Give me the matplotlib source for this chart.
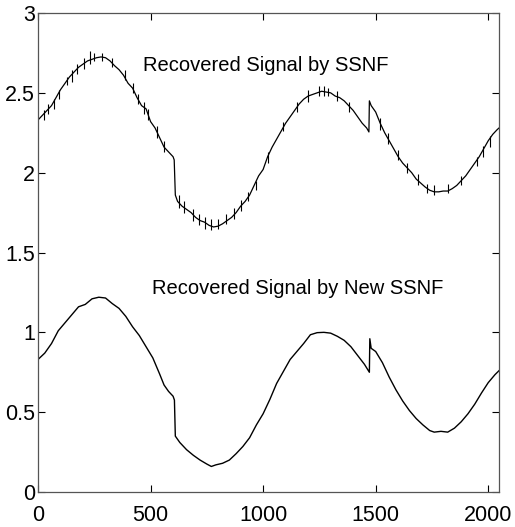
import matplotlib
matplotlib.use("Agg")
import matplotlib.pyplot as plt

# Recovered signal by the new SSNF (smooth trace)
new_x = [0, 30, 60, 90, 120, 150, 180, 210, 240, 270, 300, 330, 360, 390, 420,
         450, 480, 510, 540, 560, 580, 600, 606, 610, 630, 660, 690, 720, 750,
         770, 790, 820, 850, 880, 910, 940, 970, 1000, 1030, 1060, 1090, 1120,
         1150, 1180, 1210, 1240, 1270, 1300, 1330, 1360, 1390, 1420, 1450, 1472,
         1474, 1480, 1500, 1530, 1560, 1590, 1620, 1650, 1680, 1710, 1740, 1760,
         1790, 1820, 1850, 1880, 1910, 1940, 1970, 2000, 2030, 2048]
new_y = [0.83, 0.87, 0.93, 1.01, 1.06, 1.11, 1.16, 1.175, 1.21, 1.22, 1.215,
         1.18, 1.15, 1.10, 1.035, 0.98, 0.91, 0.84, 0.74, 0.67, 0.63, 0.60,
         0.576, 0.35, 0.31, 0.265, 0.23, 0.20, 0.175, 0.16, 0.17, 0.18, 0.20,
         0.24, 0.285, 0.34, 0.42, 0.49, 0.58, 0.68, 0.755, 0.83, 0.88, 0.93,
         0.985, 0.998, 1.0, 0.995, 0.975, 0.95, 0.91, 0.855, 0.80, 0.75, 0.96,
         0.90, 0.88, 0.81, 0.72, 0.64, 0.57, 0.51, 0.46, 0.42, 0.385, 0.375,
         0.38, 0.375, 0.40, 0.44, 0.49, 0.55, 0.62, 0.685, 0.735, 0.76]

# Recovered signal by the SSNF (noisy trace)
ssnf_x = [0, 20, 40, 60, 80, 100, 120, 140, 160, 180, 200, 220, 240, 260, 280,
          300, 320, 340, 360, 380, 400, 420, 440, 460, 480, 500, 520, 540, 560,
          580, 600, 605, 610, 620, 640, 660, 680, 700, 720, 740, 760, 780, 800,
          820, 840, 860, 880, 900, 920, 940, 960, 980, 1000, 1020, 1040, 1060,
          1080, 1100, 1120, 1140, 1160, 1180, 1200, 1220, 1240, 1260, 1280,
          1300, 1320, 1340, 1360, 1380, 1400, 1420, 1440, 1460, 1470, 1472,
          1480, 1500, 1520, 1540, 1560, 1580, 1600, 1620, 1640, 1660, 1680,
          1700, 1720, 1740, 1760, 1780, 1800, 1820, 1840, 1860, 1880, 1900,
          1920, 1940, 1960, 1980, 2000, 2020, 2040, 2048]
ssnf_y = [2.33, 2.36, 2.39, 2.42, 2.47, 2.52, 2.56, 2.60, 2.63, 2.66, 2.68,
          2.70, 2.71, 2.72, 2.725, 2.72, 2.70, 2.67, 2.645, 2.61, 2.56, 2.53,
          2.47, 2.42, 2.40, 2.32, 2.28, 2.22, 2.16, 2.13, 2.10, 2.08, 1.86,
          1.82, 1.79, 1.77, 1.75, 1.72, 1.70, 1.69, 1.67, 1.66, 1.665, 1.68,
          1.70, 1.72, 1.75, 1.79, 1.82, 1.86, 1.92, 1.98, 2.02, 2.10, 2.16,
          2.21, 2.26, 2.31, 2.35, 2.39, 2.43, 2.46, 2.48, 2.49, 2.50, 2.51,
          2.505, 2.50, 2.48, 2.47, 2.45, 2.42, 2.39, 2.35, 2.31, 2.28, 2.255,
          2.45, 2.42, 2.38, 2.31, 2.25, 2.20, 2.15, 2.10, 2.06, 2.03, 2.00,
          1.96, 1.935, 1.91, 1.89, 1.88, 1.88, 1.885, 1.885, 1.90, 1.92, 1.95,
          1.98, 2.02, 2.06, 2.10, 2.15, 2.20, 2.24, 2.27, 2.28]

# Short noise spikes on the SSNF trace: position, low end, high end
spike_x = [25, 45, 70, 95, 130, 150, 175, 205, 230, 250, 285, 330, 385, 420,
           445, 470, 490, 530, 560, 625, 650, 690, 715, 740, 770, 800, 835,
           870, 900, 935, 970, 1020, 1090, 1150, 1200, 1250, 1270, 1290, 1330,
           1380, 1520, 1555, 1600, 1640, 1690, 1730, 1760, 1820, 1880, 1950,
           1975, 2010]
spike_lo = [2.33, 2.37, 2.40, 2.46, 2.55, 2.57, 2.62, 2.65, 2.68, 2.70, 2.70,
            2.66, 2.58, 2.50, 2.43, 2.37, 2.33, 2.22, 2.13, 1.78, 1.75, 1.70,
            1.67, 1.65, 1.64, 1.65, 1.68, 1.71, 1.76, 1.82, 1.89, 2.06, 2.26,
            2.38, 2.44, 2.48, 2.48, 2.48, 2.45, 2.38, 2.27, 2.18, 2.08, 2.00,
            1.92, 1.87, 1.86, 1.87, 1.92, 2.04, 2.10, 2.16]
spike_hi = [2.39, 2.43, 2.46, 2.52, 2.60, 2.64, 2.68, 2.72, 2.76, 2.75, 2.75,
            2.72, 2.64, 2.56, 2.49, 2.44, 2.40, 2.29, 2.20, 1.86, 1.82, 1.77,
            1.74, 1.72, 1.71, 1.71, 1.74, 1.78, 1.83, 1.88, 1.95, 2.13, 2.32,
            2.44, 2.52, 2.54, 2.54, 2.53, 2.51, 2.44, 2.34, 2.25, 2.14, 2.06,
            1.99, 1.93, 1.92, 1.93, 1.98, 2.10, 2.17, 2.23]

x_ticks = [0, 500, 1000, 1500, 2000]
x_tick_labels = ["0", "500", "1000", "1500", "2000"]
y_ticks = [0, 0.5, 1, 1.5, 2, 2.5, 3]
y_tick_labels = ["0", "0.5", "1", "1.5", "2", "2.5", "3"]

label_top = "Recovered Signal by SSNF"
label_bottom = "Recovered Signal by New SSNF"

plt.rcParams["font.family"] = ["Liberation Sans", "DejaVu Sans"]

fig = plt.figure(figsize=(5.15, 5.27), dpi=100)
ax = fig.add_axes([0.0738, 0.0664, 0.8952, 0.9089])

ax.plot(ssnf_x, ssnf_y, color="black", lw=0.9)
ax.vlines(spike_x, spike_lo, spike_hi, color="black", lw=0.8)
ax.plot(new_x, new_y, color="black", lw=1.0)

ax.text(467, 2.67, label_top, fontsize=14.5, va="center", ha="left")
ax.text(507, 1.277, label_bottom, fontsize=14.5, va="center", ha="left")

ax.set_xlim(0, 2048)
ax.set_ylim(0, 3)
ax.set_xticks(x_ticks)
ax.set_xticklabels(x_tick_labels)
ax.set_yticks(y_ticks)
ax.set_yticklabels(y_tick_labels)
ax.tick_params(direction="in", length=5, width=0.8, top=True, right=True,
               labelsize=15.5, colors="black")
ax.tick_params(axis="x", pad=9)
ax.tick_params(axis="y", pad=2)
for s in ax.spines.values():
    s.set_color("#555555")
    s.set_linewidth(0.9)

fig.savefig("out.png", dpi=100)
